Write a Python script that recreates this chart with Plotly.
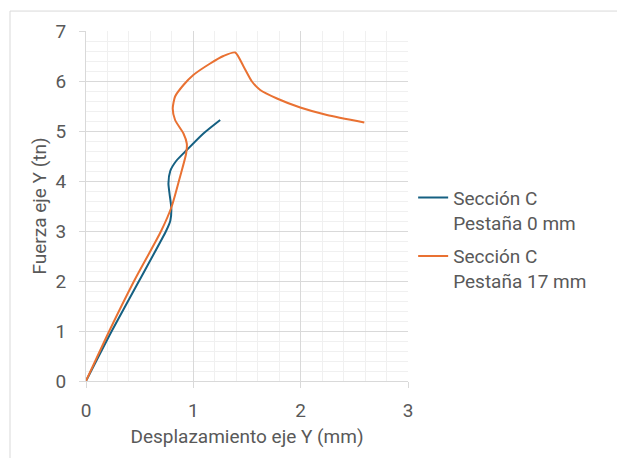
import plotly.graph_objects as go

# Sección C, Pestaña 0 mm: desplazamiento (mm) vs fuerza (tn)
disp_p0 = [0.0, 0.24, 0.494, 0.746, 0.785, 0.795, 0.778, 0.768, 0.785, 0.84, 0.939, 1.094, 1.25]
force_p0 = [0.0, 1.0, 2.0, 3.0, 3.2, 3.45, 3.75, 3.95, 4.2, 4.4, 4.62, 4.95, 5.22]

# Sección C, Pestaña 17 mm
disp_p17 = [0.0, 0.217, 0.448, 0.7, 0.8, 0.877, 0.933, 0.939, 0.908, 0.83, 0.808, 0.83,
            0.908, 1.0, 1.157, 1.28, 1.39, 1.468, 1.546, 1.623, 1.779, 1.996, 2.245, 2.593]
force_p17 = [0.0, 1.0, 2.0, 3.0, 3.5, 4.09, 4.55, 4.75, 4.95, 5.22, 5.45, 5.69,
             5.92, 6.12, 6.35, 6.5, 6.57, 6.29, 5.99, 5.82, 5.65, 5.47, 5.32, 5.17]

series_names = ["Sección C<br>Pestaña 0 mm", "Sección C<br>Pestaña 17 mm"]
series_colors = ["#156082", "#E97132"]

x_ticks = [0, 1, 2, 3]
y_ticks = [0, 1, 2, 3, 4, 5, 6, 7]

FONT = "Roboto"
SIZE = 19
TEXT = "#595959"
GRID = "#d9d9d9"
MINOR = "#f0f0f0"

fig = go.Figure()
for i, (xs, ys, name, color) in enumerate([
    (disp_p0, force_p0, series_names[0], series_colors[0]),
    (disp_p17, force_p17, series_names[1], series_colors[1]),
]):
    fig.add_trace(go.Scatter(
        x=xs, y=ys, name=name, mode="lines", legendgroup=f"g{i}",
        line=dict(color=color, width=2, shape="spline", smoothing=0.6),
    ))

axis_common = dict(
    showline=True, linecolor=GRID, linewidth=1,
    showgrid=True, gridcolor=GRID, gridwidth=1,
    ticks="outside", ticklen=6, tickcolor=GRID,
    tickfont=dict(family=FONT, size=SIZE, color=TEXT),
    zeroline=False, mirror=False,
)

fig.update_layout(
    width=617, height=458,
    margin=dict(l=86, r=209, t=31, b=77),
    paper_bgcolor="white", plot_bgcolor="white",
    font=dict(family=FONT, color=TEXT),
    xaxis=dict(
        range=[0, 3], tickvals=x_ticks, ticklabelstandoff=6,
        title=dict(text="Desplazamiento eje Y (mm)", font=dict(family=FONT, size=SIZE, color=TEXT), standoff=8),
        minor=dict(dtick=0.2, showgrid=True, gridcolor=MINOR, ticks=""),
        **axis_common,
    ),
    yaxis=dict(
        range=[0, 7], tickvals=y_ticks, ticklabelstandoff=9,
        title=dict(text="Fuerza eje Y (tn)", font=dict(family=FONT, size=SIZE, color=TEXT), standoff=3),
        minor=dict(dtick=0.2, showgrid=True, gridcolor=MINOR, ticks=""),
        **axis_common,
    ),
    legend=dict(
        x=1.016, y=0.578, xanchor="left", yanchor="top",
        font=dict(family=FONT, size=SIZE, color=TEXT),
        valign="top", tracegroupgap=6, itemwidth=30,
        bgcolor="rgba(0,0,0,0)",
    ),
    shapes=[dict(
        type="rect", xref="paper", yref="paper",
        x0=-0.236, x1=2.0, y0=-1.0, y1=1.057,
        line=dict(color=GRID, width=1), fillcolor="rgba(0,0,0,0)", layer="below",
    )],
)

fig.write_html("out.html")
